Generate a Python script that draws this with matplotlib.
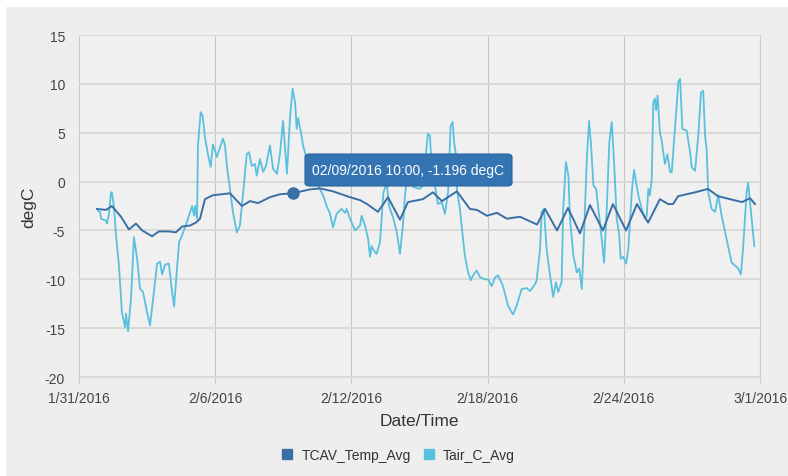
#!/usr/bin/env python3

import matplotlib
matplotlib.use("Agg")
import matplotlib.pyplot as plt
from matplotlib.patches import Rectangle, FancyBboxPatch
import pandas as pd

plt.rcParams['font.family'] = ['Liberation Sans', 'DejaVu Sans']
plt.rcParams['axes.unicode_minus'] = False

# data: days after 1/31/2016 00:00 and temperatures (degC)
tcav_days = [0.79, 1.19, 1.45, 1.85, 2.20, 2.51, 2.78, 3.22, 3.52, 3.96, 4.27,
             4.54, 4.89, 5.15, 5.33, 5.55, 5.90, 6.65, 7.18, 7.53, 7.89, 8.41,
             8.85, 9.417, 10.18, 10.62, 11.19, 11.94, 12.38, 12.69, 13.17,
             13.61, 14.14, 14.49, 15.15, 15.59, 15.99, 16.65, 17.22, 17.53,
             17.97, 18.41, 18.85, 19.43, 20.18, 20.53, 21.06, 21.54, 22.07,
             22.51, 23.08, 23.52, 24.10, 24.58, 25.07, 25.59, 25.95, 26.17,
             26.39, 27.14, 27.71, 28.15, 29.21, 29.56, 29.78]
tcav_vals = [-2.8, -2.9, -2.5, -3.6, -4.9, -4.3, -5.0, -5.6, -5.1, -5.1, -5.2,
             -4.6, -4.5, -4.2, -3.8, -1.8, -1.4, -1.2, -2.5, -2.0, -2.2, -1.6,
             -1.3, -1.196, -0.8, -0.7, -1.0, -1.6, -1.9, -2.3, -3.1,
             -1.6, -3.9, -2.1, -1.8, -1.1, -2.0, -1.0, -2.8, -2.9,
             -3.5, -3.2, -3.8, -3.6, -4.4, -2.8, -5.0, -2.7, -5.3,
             -2.4, -5.0, -2.3, -5.0, -2.3, -4.2, -1.8, -2.3, -2.3,
             -1.5, -1.1, -0.75, -1.5, -2.1, -1.7, -2.3]

tair_days = [0.84, 0.93, 0.97, 1.19, 1.23, 1.32, 1.41, 1.45, 1.54, 1.63, 1.76,
             1.89, 2.03, 2.07, 2.16, 2.29, 2.42, 2.56, 2.69, 2.82, 3.00, 3.13,
             3.30, 3.44, 3.57, 3.66, 3.79, 3.96, 4.10, 4.19, 4.27, 4.41, 4.54,
             4.76, 4.98, 5.07, 5.11, 5.20, 5.24, 5.36, 5.45, 5.55, 5.68, 5.80,
             5.90, 5.99, 6.07, 6.21, 6.34, 6.43, 6.52, 6.65, 6.78, 6.95, 7.09,
             7.22, 7.39, 7.49, 7.61, 7.75, 7.83, 7.97, 8.11, 8.24, 8.41, 8.55,
             8.72, 8.85, 8.99, 9.16, 9.30, 9.41, 9.52, 9.59, 9.65, 9.78, 9.87,
             10.00, 10.26, 10.53, 10.75, 10.91, 11.06, 11.19, 11.35, 11.57,
             11.72, 11.79, 11.94, 12.16, 12.38, 12.45, 12.60, 12.74, 12.82,
             12.89, 13.00, 13.11, 13.26, 13.41, 13.56, 13.66, 13.85, 14.00,
             14.14, 14.27, 14.36, 14.49, 14.71, 15.02, 15.15, 15.37, 15.46,
             15.54, 15.68, 15.81, 15.98, 16.12, 16.26, 16.37, 16.46, 16.52,
             16.59, 16.65, 16.78, 16.90, 17.00, 17.14, 17.26, 17.36, 17.52,
             17.67, 17.89, 18.02, 18.18, 18.33, 18.46, 18.68, 18.90, 19.12,
             19.28, 19.50, 19.72, 19.87, 20.09, 20.16, 20.31, 20.38, 20.48,
             20.60, 20.75, 20.89, 21.01, 21.11, 21.26, 21.33, 21.45, 21.56,
             21.63, 21.78, 21.93, 22.04, 22.15, 22.22, 22.29, 22.37, 22.47,
             22.56, 22.66, 22.78, 22.88, 23.03, 23.13, 23.25, 23.36, 23.47,
             23.57, 23.69, 23.80, 23.86, 23.98, 24.10, 24.20, 24.35, 24.45,
             24.64, 24.79, 24.93, 25.01, 25.08, 25.15, 25.23, 25.30, 25.37,
             25.42, 25.49, 25.59, 25.67, 25.81, 25.92, 26.04, 26.11, 26.33,
             26.40, 26.48, 26.58, 26.77, 26.92, 26.99, 27.14, 27.28, 27.40,
             27.50, 27.58, 27.65, 27.72, 27.87, 28.02, 28.16, 28.31, 28.53,
             28.75, 28.90, 29.04, 29.16, 29.26, 29.41, 29.48, 29.56, 29.75]
tair_vals = [-3.0, -3.1, -3.8, -4.0, -4.3, -3.3, -1.1, -1.1, -2.6, -5.5, -8.6,
             -13.4, -14.9, -13.5, -15.3, -12.0, -5.7, -7.9, -11.0, -11.3, -13.4, -14.7,
             -11.3, -8.4, -8.2, -9.5, -8.5, -8.4, -11.3, -12.8, -10.3, -6.2, -5.5,
             -4.1, -2.5, -3.5, -2.5, -3.8, 3.7, 7.1, 6.7, 4.5, 2.8, 1.5,
             3.8, 3.2, 2.5, 3.5, 4.4, 3.7, 1.5, -0.75, -3.1, -5.2, -4.5,
             -1.4, 2.8, 3.0, 1.6, 1.8, 0.6, 2.3, 1.0, 1.6, 3.7, 1.3,
             0.8, 2.8, 6.2, 0.8, 6.7, 9.5, 8.1, 5.4, 6.5, 5.0, 3.7,
             2.6, 1.0, -0.4, -1.4, -2.5, -3.3, -4.7, -3.3, -2.8,
             -3.2, -2.8, -3.8, -5.0, -4.5, -3.5, -4.5, -5.9, -7.7,
             -6.6, -7.1, -7.4, -6.2, -1.1, -0.2, -2.5, -3.8, -5.2,
             -7.4, -4.5, -1.4, 1.0, -0.55, -0.75, -0.4, 4.9, 4.7,
             1.3, -0.4, -2.3, -2.1, -3.3, -1.1, 5.7, 6.1, 4.1,
             3.0, -0.9, -2.8, -5.5, -7.6, -9.3, -10.1, -9.6, -9.1,
             -9.8, -10.0, -10.0, -10.7, -9.8, -9.6, -10.7, -12.7, -13.6,
             -12.7, -11.0, -10.9, -11.2, -10.5, -10.1, -6.9, -3.1, -2.8,
             -6.9, -9.6, -11.8, -10.3, -11.3, -10.3, -2.8, 2.0, 0.6,
             -3.8, -7.6, -9.3, -8.9, -11.0, -7.2, -2.8, 2.3, 6.2,
             3.7, -0.4, -0.75, -2.8, -5.9, -8.3, -2.8, 4.0, 6.1,
             2.0, -3.8, -5.5, -7.9, -7.7, -8.4, -6.9, -1.1, 1.2,
             -1.4, -2.8, -3.8, -3.5, -0.75, -1.4, 0.3, 8.1, 8.5,
             7.3, 8.8, 5.0, 4.2, 1.8, 2.8, 0.95, 0.95, 7.8,
             10.2, 10.5, 5.4, 5.2, 3.0, 1.5, 1.1, 4.7, 9.1,
             9.3, 4.7, 3.3, -1.1, -2.8, -3.1, -1.4, -3.5, -5.9,
             -8.3, -8.6, -8.9, -9.5, -6.6, -1.1, -0.1, -2.1, -6.6]

tick_dates = ['2016-01-31', '2016-02-06', '2016-02-12', '2016-02-18',
              '2016-02-24', '2016-03-01']
y_ticks = [-20, -15, -10, -5, 0, 5, 10, 15]
series_names = ['TCAV_Temp_Avg', 'Tair_C_Avg']
hover_day = 9.417
hover_val = -1.196
hover_text = '02/09/2016 10:00, -1.196 degC'

start = pd.Timestamp('2016-01-31')
tcav_t = start + pd.to_timedelta(tcav_days, unit='D')
tair_t = start + pd.to_timedelta(tair_days, unit='D')
hover_t = start + pd.to_timedelta(hover_day, unit='D')

dark = '#3a6fa6'
light = '#5bc0de'
bg = '#eeeeee'

fig = plt.figure(figsize=(7.88, 4.77), dpi=100, facecolor=bg)
ax = fig.add_axes([79 / 788, 1 - 378 / 477, 681 / 788, 342 / 477])
ax.set_facecolor('#f0f0f0')

# white strips at top and left of the screenshot
fig.patches.append(Rectangle((0, 1 - 8 / 477), 1, 8 / 477, transform=fig.transFigure,
                             facecolor='white', edgecolor='none', zorder=-1))
fig.patches.append(Rectangle((0, 0), 6 / 788, 1, transform=fig.transFigure,
                             facecolor='white', edgecolor='none', zorder=-1))

ax.plot(tair_t, tair_vals, color=light, lw=1.3, zorder=3)
ax.plot(tcav_t, tcav_vals, color=dark, lw=1.4, zorder=4)
ax.plot([hover_t], [hover_val], 'o', color=dark, ms=8, zorder=5)

ticks = pd.to_datetime(tick_dates)
ax.set_xlim(ticks[0], ticks[-1])
ax.set_xticks(ticks)
ax.set_xticklabels([f'{d.month}/{d.day}/{d.year}' for d in ticks])
ax.set_ylim(y_ticks[0], y_ticks[-1])
ax.set_yticks(y_ticks)

ax.grid(axis='y', color='#d9d9d9', lw=1.4)
ax.grid(axis='x', color='#c6c6c6', lw=0.8)
ax.set_axisbelow(True)
for s in ['top', 'left']:
    ax.spines[s].set_visible(False)
ax.spines['right'].set_color('#cccccc')
ax.spines['right'].set_linewidth(0.8)
ax.spines['bottom'].set_color('#d9d9d9')
ax.spines['bottom'].set_linewidth(1.4)

ax.tick_params(axis='x', colors='#cccccc', labelcolor='#444444', labelsize=10,
               length=5, width=0.8, pad=5)
ax.tick_params(axis='y', length=0, labelcolor='#444444', labelsize=10, pad=10)

ax.set_xlabel('Date/Time', fontsize=12.5, color='#333333', labelpad=6)
ax.set_ylabel('degC', fontsize=12.5, color='#333333', labelpad=6)

# tooltip box
x0, y0 = 305 / 788, 1 - 187 / 477
w, h = 207 / 788, 32 / 477
box = FancyBboxPatch((x0, y0), w, h, boxstyle='round,pad=0,rounding_size=0.006',
                     transform=fig.transFigure, facecolor='#3474b3',
                     edgecolor='#2c649c', lw=0.8, zorder=10)
fig.patches.append(box)
fig.text(x0 + w / 2, y0 + h / 2, hover_text, color='white', fontsize=10,
         ha='center', va='center', zorder=11)

# legend
handles = [plt.Line2D([], [], marker='s', ls='none', color=c, ms=7)
           for c in (dark, light)]
fig.legend(handles, series_names, loc='center', bbox_to_anchor=(0.5, 1 - 456 / 477),
           ncol=2, frameon=False, fontsize=10, handletextpad=0.05,
           columnspacing=0.3, labelcolor='#333333')

fig.savefig('out.png', dpi=100, facecolor=bg)
